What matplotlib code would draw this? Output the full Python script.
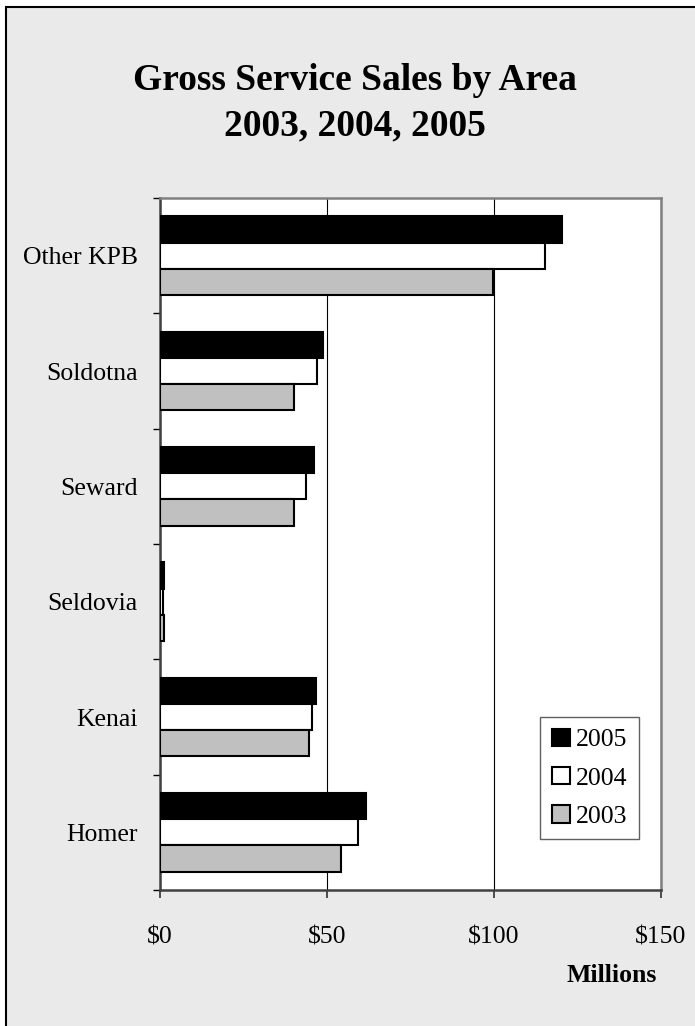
import matplotlib
matplotlib.use("Agg")
import matplotlib.pyplot as plt
import numpy as np
from matplotlib.patches import Rectangle

plt.rcParams['font.family'] = ['Liberation Serif', 'DejaVu Serif']

# Data (millions of dollars)
areas = ["Homer", "Kenai", "Seldovia", "Seward", "Soldotna", "Other KPB"]
sales_2005 = [61.6, 46.6, 1.3, 46.2, 48.9, 120.5]
sales_2004 = [59.3, 45.4, 1.0, 43.6, 46.9, 115.4]
sales_2003 = [54.2, 44.6, 1.3, 40.2, 40.2, 99.7]
years = ["2005", "2004", "2003"]
xticks = [0, 50, 100, 150]
xticklabels = ["$0", "$50", "$100", "$150"]

W, H = 695, 1026
fig = plt.figure(figsize=(W / 100, H / 100), dpi=100)
fig.patch.set_facecolor("white")

# chart area background with border
bg = Rectangle((6 / W, -0.01), 1.02, 1 - 7 / H + 0.01, transform=fig.transFigure,
               facecolor="#EAEAEA", edgecolor="black", linewidth=1.5, zorder=-5)
fig.patches.append(bg)

left, right, top, bottom = 160 / W, 661 / W, 1 - 198 / H, 1 - 890 / H
ax = fig.add_axes([left, bottom, right - left, top - bottom])
ax.set_zorder(2)
ax.set_facecolor("white")

y = np.arange(len(areas))
h = 0.228
series = [(sales_2005, "black"), (sales_2004, "white"), (sales_2003, "#C0C0C0")]
offsets = [h, 0, -h]
handles = []
for (vals, col), off, lab in zip(series, offsets, years):
    b = ax.barh(y + off, vals, height=h, color=col, edgecolor="black",
                linewidth=1.5, label=lab, zorder=3)
    handles.append(b)

ax.set_xlim(0, 150)
ax.set_ylim(-0.5, len(areas) - 0.5)

ax.set_xticks(xticks)
ax.set_xticklabels(xticklabels, fontsize=18.5)
ax.set_yticks(y)
ax.set_yticklabels(areas, fontsize=18.5)
ax.set_yticks(np.arange(-0.5, len(areas), 1.0), minor=True)
ax.tick_params(axis="y", which="major", length=0, pad=16)
ax.tick_params(axis="y", which="minor", length=5, width=1.0, direction="out", color="black")
ax.tick_params(axis="x", which="major", length=5.5, width=1.2, direction="out", pad=21, color="#303030")

ax.xaxis.grid(True, color="black", linewidth=0.8)
ax.set_axisbelow(True)

for s in ["top", "right"]:
    ax.spines[s].set_color("#808080")
    ax.spines[s].set_linewidth(1.8)
for s in ["left", "bottom"]:
    ax.spines[s].set_color("#404040")
    ax.spines[s].set_linewidth(1.8)

# Title
fig.text(0.51, 1 - 80 / H, "Gross Service Sales by Area", ha="center", va="center",
         fontsize=27, fontweight="bold")
fig.text(0.51, 1 - 125.5 / H, "2003, 2004, 2005", ha="center", va="center",
         fontsize=27, fontweight="bold")

# x axis title
fig.text(657 / W, 1 - 975 / H, "Millions", ha="right", va="center",
         fontsize=18.5, fontweight="bold")

leg = ax.legend(handles=handles, labels=years, loc="upper left",
                bbox_to_anchor=(540 / W, 1 - 717 / H), bbox_transform=fig.transFigure,
                fontsize=18.5, frameon=True, fancybox=False, framealpha=1,
                edgecolor="#606060", handlelength=0.7, handleheight=0.68,
                handletextpad=0.25, labelspacing=0.6, borderpad=0.45,
                borderaxespad=0)
leg.get_frame().set_linewidth(1.0)

fig.savefig("out.png", dpi=100)
